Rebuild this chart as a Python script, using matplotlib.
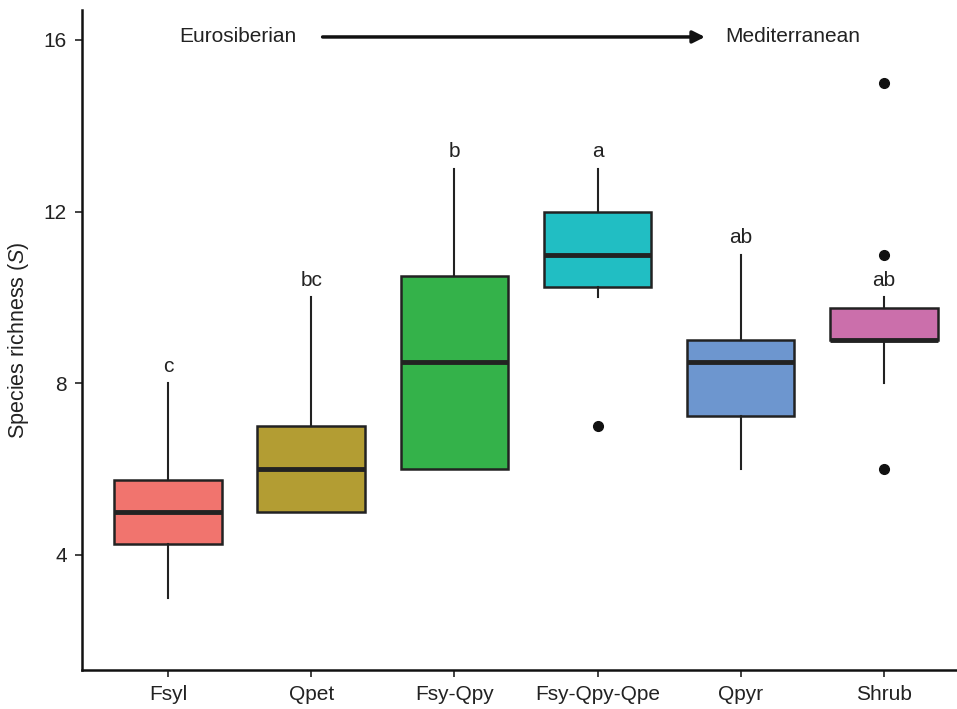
import matplotlib
matplotlib.use("Agg")
import matplotlib.pyplot as plt

plt.rcParams['font.family'] = ['Liberation Sans', 'DejaVu Sans']
plt.rcParams['mathtext.fontset'] = 'custom'
plt.rcParams['mathtext.rm'] = 'Liberation Sans'
plt.rcParams['mathtext.it'] = 'Liberation Sans:italic'

# forest types and box statistics (species richness S)
groups = ['Fsyl', 'Qpet', 'Fsy-Qpy', 'Fsy-Qpy-Qpe', 'Qpyr', 'Shrub']
q1 = [4.25, 5.0, 6.0, 10.25, 7.25, 9.0]
med = [5.0, 6.0, 8.5, 11.0, 8.5, 9.0]
q3 = [5.75, 7.0, 10.5, 12.0, 9.0, 9.75]
whislo = [3, 5, 6, 10, 6, 8]
whishi = [8, 10, 13, 13, 11, 10]
outliers = [[], [], [], [7], [], [6, 11, 15]]
letters = ['c', 'bc', 'b', 'a', 'ab', 'ab']
colors = ['#F1746E', '#B39D33', '#34B24A', '#21BEC3', '#6D96CF', '#CB6FAB']

fig = plt.figure(figsize=(9.57, 7.09), dpi=100)
ax = fig.add_axes([0.0857, 0.055, 0.9143, 0.931])

stats = []
for i, g in enumerate(groups):
    stats.append(dict(label=g, q1=q1[i], med=med[i], q3=q3[i],
                      whislo=whislo[i], whishi=whishi[i], fliers=outliers[i]))

bp = ax.bxp(stats, positions=range(1, 7), widths=0.75, patch_artist=True,
            showcaps=False,
            boxprops=dict(linewidth=1.8, edgecolor='#222222'),
            medianprops=dict(color='#222222', linewidth=3.5),
            whiskerprops=dict(color='#222222', linewidth=1.5),
            flierprops=dict(marker='o', markerfacecolor='#111111',
                            markeredgecolor='#111111', markersize=7))
for patch, c in zip(bp['boxes'], colors):
    patch.set_facecolor(c)

# significance letters above the upper whiskers
for i, lab in enumerate(letters):
    ax.text(i + 1, whishi[i] + 0.4, lab, ha='center', va='center', fontsize=15,
            color='#222222')

# gradient arrow
ax.annotate('', xy=(4.75, 16.07), xytext=(2.08, 16.07),
            arrowprops=dict(arrowstyle='-|>', color='#111111', lw=2.5,
                            mutation_scale=18, shrinkA=0, shrinkB=0))
ax.text(1.49, 16.07, 'Eurosiberian', ha='center', va='center', fontsize=15,
        color='#222222')
ax.text(5.36, 16.07, 'Mediterranean', ha='center', va='center', fontsize=15,
        color='#222222')

ax.set_xlim(0.4, 6.51)
ax.set_ylim(1.32, 16.7)
ax.set_yticks([4, 8, 12, 16])
ax.set_xticks(range(1, 7))
ax.set_xticklabels(groups)
ax.set_ylabel(r'Species richness ($\mathit{S}$)', fontsize=15.5, color='#222222',
              labelpad=9)
ax.tick_params(labelsize=15, colors='#222222', length=5, width=1.2, pad=6)
for s in ['top', 'right']:
    ax.spines[s].set_visible(False)
for s in ['left', 'bottom']:
    ax.spines[s].set_linewidth(1.8)
    ax.spines[s].set_color('#111111')

fig.savefig('out.png', dpi=100)
